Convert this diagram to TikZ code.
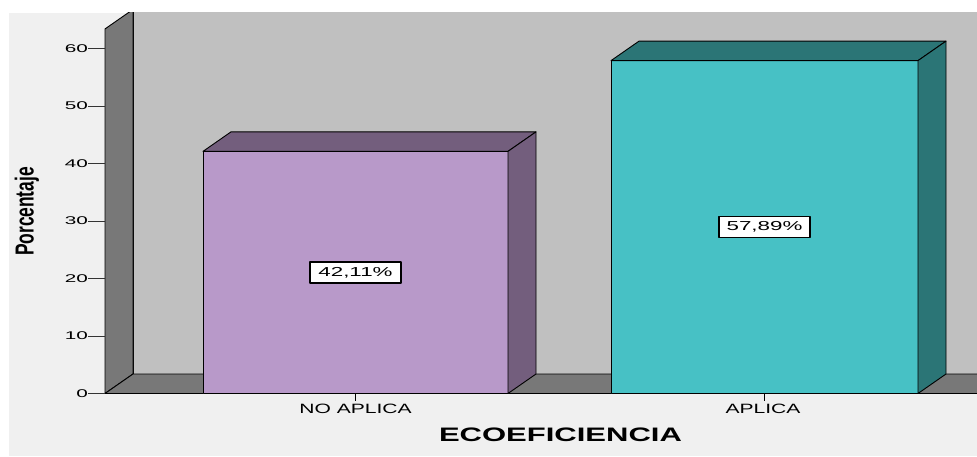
\documentclass[tikz,border=0pt]{standalone}
\usepackage{fontspec}
\setmainfont{Liberation Sans}
\usepackage{graphicx}
\definecolor{bgcol}{RGB}{240,240,240}
\definecolor{wallcol}{RGB}{192,192,192}
\definecolor{sidecol}{RGB}{120,120,120}
\definecolor{lilac}{RGB}{184,153,201}
\definecolor{lilacdark}{RGB}{115,94,125}
\definecolor{aqua}{RGB}{71,193,197}
\definecolor{aquadark}{RGB}{43,117,118}
\newcommand\hstr[2]{\scalebox{#1}[1]{#2}}
\begin{document}
\begin{tikzpicture}[x=1pt,y=1pt,line join=round,
    edge/.style={draw=black,line width=.9pt},
    ticklab/.style={anchor=east,inner sep=0pt,font=\fontsize{11.2}{13}\selectfont},
    catlab/.style={inner sep=0pt,font=\fontsize{13.5}{16}\selectfont},
    vallab/.style={draw,fill=white,line width=1.2pt,minimum width=91pt,minimum height=21pt,inner sep=0pt,font=\fontsize{13}{15}\selectfont}]
    \def\yz{62.5} \def\u{5.75} \def\dx{28} \def\dy{19.5}
    \useasboundingbox (0,0) rectangle (977,456);
    \fill[white] (0,0) rectangle (977,456);
    \fill[bgcol] (9,0) rectangle (977,443);
    \begin{scope}
        \clip (9,0) rectangle (977,443);
        \filldraw[fill=wallcol,edge] (105+\dx,\yz+\dy) rectangle (990,460);
        \filldraw[fill=sidecol,edge] (105,\yz)--++(\dx,\dy)--(105+\dx,{\yz+63.4*\u+\dy})--(105,{\yz+63.4*\u})--cycle;
        \filldraw[fill=sidecol,edge] (105,\yz)--(990,\yz)--++(0,\dy)--(105+\dx,\yz+\dy)--cycle;
        \foreach \xa/\xb/\v/\c/\d in {203/508/42.11/lilac/lilacdark, 611/918/57.89/aqua/aquadark}{
            \filldraw[fill=\c,edge] (\xa,\yz) rectangle (\xb,{\yz+\v*\u});
            \filldraw[fill=\d,edge] (\xa,{\yz+\v*\u})--++(\dx,\dy)--({\xb+\dx},{\yz+\v*\u+\dy})--(\xb,{\yz+\v*\u})--cycle;
            \filldraw[fill=\d,edge] (\xb,\yz)--++(\dx,\dy)--({\xb+\dx},{\yz+\v*\u+\dy})--(\xb,{\yz+\v*\u})--cycle;
            \draw[edge] ({(\xa+\xb)/2},\yz)--++(0,-7);
        }
    \end{scope}
    \foreach \t in {0,10,...,60}{
        \node[ticklab] (t\t) at (88,{\yz+\t*\u}) {\hstr{1.85}{\t}};
        \draw[line width=.9pt,black!80] (t\t.east)--++(17,0);
    }
    \node[vallab] (valnoap) at (355.5,{\yz+42.11*\u/2}) {\hstr{1.72}{42,11\%}};
    \node[vallab] (valap) at (764.5,{\yz+57.89*\u/2}) {\hstr{1.72}{57,89\%}};
    \node[catlab] (catnoap) at (355.5,47) {\hstr{1.56}{NO APLICA}};
    \node[catlab] (catap) at (763,47) {\hstr{1.56}{APLICA}};
    \node[font=\bfseries\fontsize{19.5}{22}\selectfont] (xlab) at (560.5,21) {\hstr{1.59}{ECOEFICIENCIA}};
    \node[rotate=90,font=\bfseries\fontsize{17.4}{20}\selectfont] (ylab) at (27,244.5) {\scalebox{1}[1.5]{Porcentaje}};
\end{tikzpicture}
\end{document}
